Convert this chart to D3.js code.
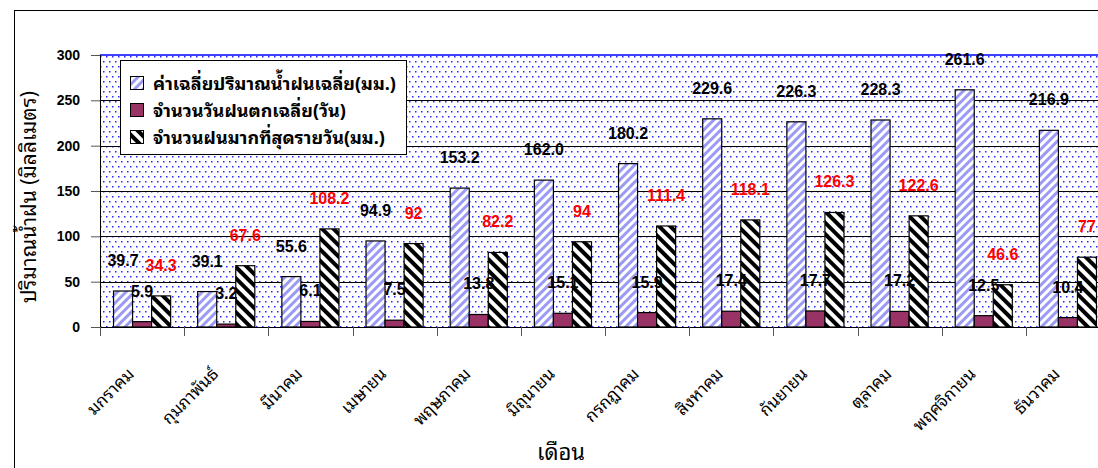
<!DOCTYPE html>
<html>
<head>
<meta charset="utf-8">
<script src="https://cdn.jsdelivr.net/npm/d3@7"></script>
<style>
  body { margin: 0; background: #fff; }
  svg { display: block; }
</style>
</head>
<body>
<div id="chart"></div>
<script>
// data
var months = ["มกราคม", "กุมภาพันธ์", "มีนาคม", "เมษายน", "พฤษภาคม", "มิถุนายน",
              "กรกฎาคม", "สิงหาคม", "กันยายน", "ตุลาคม", "พฤศจิกายน", "ธันวาคม"];
var avgRain = [39.7, 39.1, 55.6, 94.9, 153.2, 162.0, 180.2, 229.6, 226.3, 228.3, 261.6, 216.9];
var rainDays = [5.9, 3.2, 6.1, 7.5, 13.8, 15.1, 15.9, 17.4, 17.7, 17.2, 12.5, 10.4];
var maxDaily = [34.3, 67.6, 108.2, 92, 82.2, 94, 111.4, 118.1, 126.3, 122.6, 46.6, 77];
var seriesNames = ["ค่าเฉลี่ยปริมาณน้ำฝนเฉลี่ย(มม.)", "จำนวนวันฝนตกเฉลี่ย(วัน)", "จำนวนฝนมากที่สุดรายวัน(มม.)"];
var yTicks = [0, 50, 100, 150, 200, 250, 300];

var W = 1098, H = 468;
var plot = {left: 100, top: 55, right: 1110, bottom: 327};
var thaiFont = "Tahoma, 'Noto Sans Thai Looped', 'Noto Sans Thai', 'Noto Sans', sans-serif";
var numFont = "'Liberation Sans', Arial, sans-serif";

var svg = d3.select("#chart").append("svg")
    .attr("width", W)
    .attr("height", H);

var defs = svg.append("defs");

// dotted plot background
var dots = defs.append("pattern")
    .attr("id", "dots")
    .attr("patternUnits", "userSpaceOnUse")
    .attr("width", 6).attr("height", 10);
dots.append("rect").attr("width", 6).attr("height", 10).attr("fill", "#fff");
dots.append("rect").attr("x", 1).attr("y", 1).attr("width", 1.5).attr("height", 1.5).attr("fill", "#2626ff");
dots.append("rect").attr("x", 4).attr("y", 6).attr("width", 1.5).attr("height", 1.5).attr("fill", "#2626ff");

// light blue "/" stripes
var up = defs.append("pattern")
    .attr("id", "upStripe")
    .attr("patternUnits", "userSpaceOnUse")
    .attr("width", 6).attr("height", 6)
    .attr("patternTransform", "rotate(45)");
up.append("rect").attr("width", 6).attr("height", 6).attr("fill", "#fff");
up.append("rect").attr("width", 3).attr("height", 6).attr("fill", "#9b9bf5");

// black "\" stripes
var down = defs.append("pattern")
    .attr("id", "downStripe")
    .attr("patternUnits", "userSpaceOnUse")
    .attr("width", 8).attr("height", 8)
    .attr("patternTransform", "rotate(-45)");
down.append("rect").attr("width", 8).attr("height", 8).attr("fill", "#fff");
down.append("rect").attr("width", 4).attr("height", 8).attr("fill", "#000");

var fills = ["url(#upStripe)", "#993366", "url(#downStripe)"];
var labelColors = ["#000", "#000", "#ff0000"];

// outer chart border (cropped on right / bottom)
svg.append("rect")
    .attr("x", 14.5).attr("y", 10.5)
    .attr("width", 1100).attr("height", 470)
    .attr("fill", "none").attr("stroke", "#000");

// scales
var x = d3.scaleBand()
    .domain(months)
    .range([plot.left, plot.right])
    .padding(0);
var y = d3.scaleLinear()
    .domain([0, 300])
    .range([plot.bottom, plot.top]);

var barW = x.bandwidth() / 4.42;
var inner = d3.scaleBand()
    .domain([0, 1, 2])
    .range([(x.bandwidth() - 3 * barW) / 2, (x.bandwidth() + 3 * barW) / 2]);

// plot area
svg.append("rect")
    .attr("x", plot.left).attr("y", plot.top)
    .attr("width", plot.right - plot.left).attr("height", plot.bottom - plot.top)
    .attr("fill", "url(#dots)");

// gridlines
svg.append("g")
  .selectAll("line")
  .data(yTicks.filter(d => d > 0 && d < 300))
  .enter().append("line")
    .attr("x1", plot.left).attr("x2", plot.right)
    .attr("y1", d => Math.round(y(d)) + 0.5)
    .attr("y2", d => Math.round(y(d)) + 0.5)
    .attr("stroke", "#000");

// top border of plot area
svg.append("line")
    .attr("x1", plot.left).attr("x2", plot.right)
    .attr("y1", y(300)).attr("y2", y(300))
    .attr("stroke", "#0000ff").attr("stroke-width", 1.5);

// bars
var series = [avgRain, rainDays, maxDaily];
series.forEach(function (vals, s) {
  svg.append("g")
    .selectAll("rect")
    .data(vals)
    .enter().append("rect")
      .attr("x", (d, i) => x(months[i]) + inner(s))
      .attr("y", d => y(d))
      .attr("width", barW)
      .attr("height", d => y(0) - y(d))
      .attr("fill", fills[s])
      .attr("stroke", "#000")
      .attr("stroke-width", 1.2);
});

// value labels
series.forEach(function (vals, s) {
  svg.append("g")
    .selectAll("text")
    .data(vals)
    .enter().append("text")
      .attr("x", (d, i) => x(months[i]) + inner(s) + barW / 2)
      .attr("y", d => y(d) - 25)
      .attr("text-anchor", "middle")
      .style("font-family", numFont)
      .style("font-weight", "bold")
      .style("font-size", "16px")
      .attr("fill", labelColors[s])
      .text(d => s === 2 ? String(d) : d.toFixed(1));
});

// y axis
var yAxis = svg.append("g")
    .attr("transform", "translate(" + plot.left + ",0)")
    .call(d3.axisLeft(y).tickValues(yTicks).tickSize(9).tickPadding(11));
yAxis.select(".domain").attr("stroke", "#000");
yAxis.selectAll(".tick line").attr("stroke", "#555");
yAxis.selectAll("text")
    .style("font-family", numFont)
    .style("font-weight", "bold")
    .style("font-size", "14px")
    .attr("fill", "#000");

// x axis line and ticks at category boundaries
svg.append("line")
    .attr("x1", plot.left).attr("x2", plot.right)
    .attr("y1", plot.bottom + 0.5).attr("y2", plot.bottom + 0.5)
    .attr("stroke", "#000");
svg.append("g")
  .selectAll("line")
  .data(months)
  .enter().append("line")
    .attr("x1", d => Math.round(x(d)) + 0.5)
    .attr("x2", d => Math.round(x(d)) + 0.5)
    .attr("y1", plot.bottom)
    .attr("y2", plot.bottom + 9)
    .attr("stroke", "#555");

// month labels
svg.append("g")
  .selectAll("text")
  .data(months)
  .enter().append("text")
    .attr("transform", d => "translate(" + (x(d) + x.bandwidth() / 2 - 7) + ",375) rotate(-45)")
    .attr("text-anchor", "end")
    .style("font-family", thaiFont)
    .style("font-size", "17px")
    .attr("fill", "#000")
    .text(d => d);

// axis titles
svg.append("text")
    .attr("x", 561).attr("y", 460)
    .attr("text-anchor", "middle")
    .style("font-family", thaiFont)
    .style("font-size", "22px")
    .text("เดือน");

svg.append("text")
    .attr("transform", "translate(36,197) rotate(-90)")
    .attr("text-anchor", "middle")
    .style("font-family", thaiFont)
    .style("font-size", "21px")
    .text("ปริมาณน้ำฝน (มิลลิเมตร)");

// legend
var legend = svg.append("g");
legend.append("rect")
    .attr("x", 120.5).attr("y", 60.5)
    .attr("width", 286).attr("height", 94)
    .attr("fill", "#fff").attr("stroke", "#000");
var rows = legend.selectAll("g.item")
    .data(seriesNames)
    .enter().append("g")
      .attr("class", "item")
      .attr("transform", (d, i) => "translate(130," + (83 + i * 27) + ")");
rows.append("rect")
    .attr("x", 0.5).attr("y", -6.5)
    .attr("width", 13).attr("height", 13)
    .attr("fill", (d, i) => fills[i])
    .attr("stroke", "#000");
rows.append("text")
    .attr("x", 23).attr("y", 7)
    .style("font-family", thaiFont)
    .style("font-weight", "bold")
    .style("font-size", "18px")
    .attr("fill", "#000")
    .text(d => d);
</script>
</body>
</html>
